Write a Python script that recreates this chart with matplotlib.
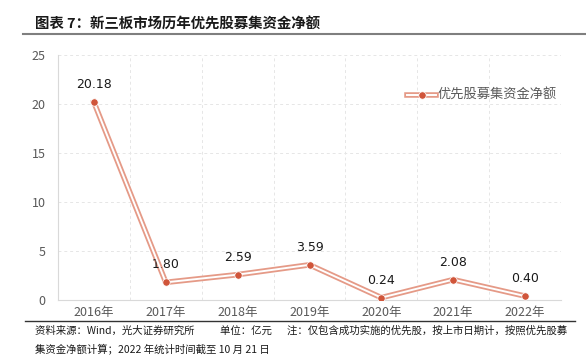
import matplotlib
matplotlib.use("Agg")
import matplotlib.pyplot as plt
from matplotlib.lines import Line2D

plt.rcParams['font.family'] = ['Noto Sans CJK SC', 'DejaVu Sans']

years = ["2016年", "2017年", "2018年", "2019年", "2020年", "2021年", "2022年"]
values = [20.18, 1.80, 2.59, 3.59, 0.24, 2.08, 0.40]
labels = ["20.18", "1.80", "2.59", "3.59", "0.24", "2.08", "0.40"]
series_name = "优先股募集资金净额"
yticks = [0, 5, 10, 15, 20, 25]

title = "图表 7：新三板市场历年优先股募集资金净额"
footer1 = "资料来源：Wind，光大证券研究所\u3000\u3000  单位：亿元\u3000  注：仅包含成功实施的优先股，按上市日期计，按照优先股募"
footer2 = "集资金净额计算；2022 年统计时间截至 10 月 21 日"

outer_c = "#E59A87"
marker_c = "#D0553A"
grid_c = "#E6E6E6"
tick_c = "#595959"

fig = plt.figure(figsize=(5.86, 3.55), dpi=100)
ax = fig.add_axes([58/586, 1-300/355, (561-58)/586, (300-55)/355])

x = list(range(len(years)))
ax.plot(x, values, color=outer_c, lw=4.0, solid_joinstyle='miter', zorder=3)
ax.plot(x, values, color="white", lw=1.4, solid_joinstyle='miter', zorder=4)
ax.scatter(x, values, s=28, color=marker_c, edgecolor="white", linewidth=0.5, zorder=5)

for xi, v, lab in zip(x, values, labels):
    ax.annotate(lab, (xi, v), xytext=(0, 8), textcoords="offset points",
                ha="center", va="bottom", fontsize=9, color="#1a1a1a",
                family=['DejaVu Sans'])

ax.set_xlim(-0.5, len(years) - 0.5)
ax.set_ylim(0, 25)
ax.set_yticks(yticks)
ax.set_yticklabels([str(t) for t in yticks])
ax.set_xticks(x)
ax.set_xticklabels(years)
ax.tick_params(axis='both', length=0, labelsize=9, labelcolor=tick_c)
ax.tick_params(axis='y', pad=9)
ax.tick_params(axis='x', pad=4)

ax.set_xticks([i + 0.5 for i in range(len(years) - 1)], minor=True)
ax.tick_params(axis='x', which='minor', length=0)
ax.grid(axis='y', which='major', color=grid_c, ls=(0, (3, 3)), lw=0.7)
ax.grid(axis='x', which='minor', color=grid_c, ls=(0, (3, 3)), lw=0.7)
ax.grid(axis='x', which='major', visible=False)

for s in ['top', 'right']:
    ax.spines[s].set_visible(False)
for s in ['left', 'bottom']:
    ax.spines[s].set_color("#D9D9D9")
    ax.spines[s].set_linewidth(0.8)

# manual legend
lx0, lx1 = (407-58)/503, (436-58)/503
ly = 1-(95-55)/245
ax.plot([lx0, lx1], [ly, ly], transform=ax.transAxes, color=outer_c, lw=4.0, clip_on=False, zorder=6)
ax.plot([lx0, lx1], [ly, ly], transform=ax.transAxes, color="white", lw=1.4, clip_on=False, zorder=7)
ax.scatter([(lx0+lx1)/2], [ly], transform=ax.transAxes, s=28, color=marker_c,
           edgecolor="white", linewidth=0.5, clip_on=False, zorder=8)
ax.text(lx1 + 0.004, ly, series_name, transform=ax.transAxes, fontsize=9.5,
        color=tick_c, va='center', ha='left')

fig.text(35/586, 1-25/355, title, fontsize=10.4, fontweight='bold', va='center', ha='left', color="#1a1a1a")
fig.add_artist(Line2D([23/586, 585/586], [1-34/355, 1-34/355], color="#7F7F7F", lw=1.5))
fig.add_artist(Line2D([25/586, 575/586], [1-321/355, 1-321/355], color="#333333", lw=1.0))
fig.text(35/586, 1-330.5/355, footer1, fontsize=7.5, va='center', ha='left', color="#1a1a1a")
fig.text(35/586, 1-348.5/355, footer2, fontsize=7.5, va='center', ha='left', color="#1a1a1a")

fig.savefig("out.png", dpi=100)
